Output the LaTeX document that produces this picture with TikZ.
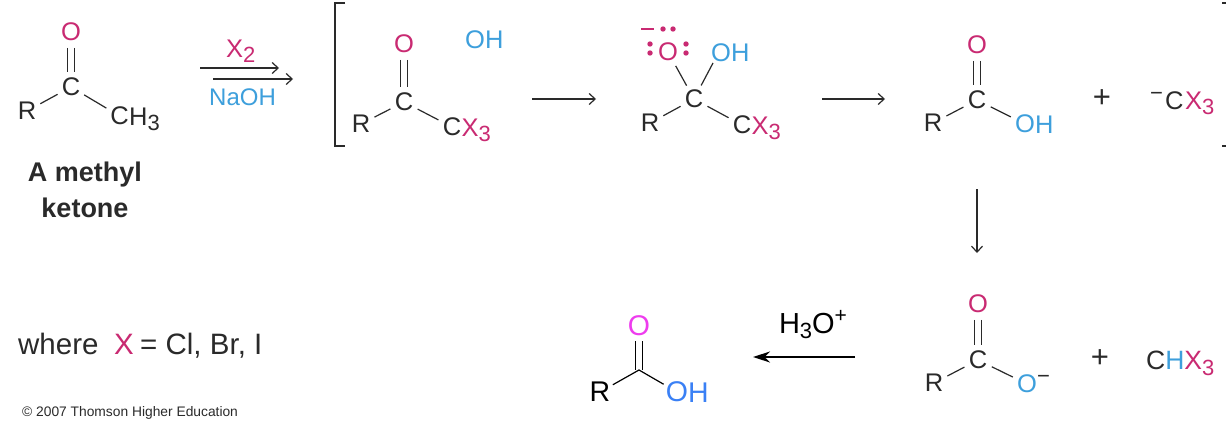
\documentclass[tikz,border=0pt]{standalone}
\usepackage{fontspec}
\setmainfont{Liberation Sans}
\usetikzlibrary{arrows.meta}
\definecolor{ink}{HTML}{2A2A2A}
\definecolor{pinkc}{HTML}{C92A72}
\definecolor{bluec}{HTML}{3D9FDC}
\definecolor{brightO}{HTML}{EE3CEE}
\definecolor{brightH}{HTML}{3A80F5}
\newcommand{\chemsize}{\fontsize{25.5}{28}\selectfont}
\newcommand{\subnum}[1]{\raisebox{-5.5pt}{\fontsize{22}{24}\selectfont #1}}
\newcommand{\supminus}{\raisebox{9pt}{\fontsize{22}{24}\selectfont −}}
\tikzset{
  atom/.style={circle,inner sep=1.6pt,font=\chemsize,text=ink},
  pinkatom/.style={atom,text=pinkc},
  plussign/.style={inner sep=0pt,font=\fontsize{31}{33}\selectfont,text=ink},
  chemtext/.style={inner sep=0pt,font=\chemsize,text=ink,anchor=base west},
  bigatom/.style={circle,inner sep=0.2pt,font=\fontsize{28.5}{30}\selectfont,text=black},
  bigtext/.style={inner sep=0pt,font=\fontsize{28.5}{30}\selectfont,anchor=base west},
  bond/.style={draw=ink,line width=1.2pt},
  rarrow/.style={draw=ink,line width=1.2pt,-{Straight Barb[length=6pt,width=11pt,line width=1.2pt]}},
  boldlabel/.style={inner sep=0pt,font=\fontsize{27}{30}\selectfont\bfseries,text=ink},
  lonepair/.style={fill=pinkc,radius=2.7pt}
}
\begin{document}
\begin{tikzpicture}[x=1pt,y=-1pt]
\path[use as bounding box,fill=white] (0,0) rectangle (1226,439);

% methyl ketone
\node[pinkatom] (aO) at (71,32) {O};
\node[atom] (aC) at (71,87) {C};
\node[atom] (aR) at (27,111) {R};
\node[atom] (aCm) at (119.5,116) {C};
\node[chemtext] (aH) at (129,125) {H\subnum{3}};
\draw[bond] ([xshift=-3.2pt]aO.south) -- ([xshift=-3.2pt]aC.north);
\draw[bond] ([xshift=3.2pt]aO.south) -- ([xshift=3.2pt]aC.north);
\draw[bond] (aR) -- (aC);
\draw[bond] (aC) -- (aCm);
\node[boldlabel] (aL1) at (85,175) {A methyl};
\node[boldlabel] (aL2) at (85,208) {ketone};

% reagents
\coordinate (r1a) at (200,68); \coordinate (r1b) at (279,68);
\coordinate (r2a) at (213,79); \coordinate (r2b) at (293,79);
\draw[rarrow] (r1a) -- (r1b);
\draw[rarrow] (r2a) -- (r2b);
\node[chemtext,text=pinkc] (rX) at (226,57) {X\subnum{2}};
\node[chemtext,text=bluec,font=\fontsize{24}{28}\selectfont] (rN) at (209,105.5) {NaOH};

% bracket
\coordinate (b1) at (345,3); \coordinate (b2) at (335,3);
\coordinate (b3) at (335,146); \coordinate (b4) at (345,146);
\draw[bond] (b1) -- (b2) -- (b3) -- (b4);
\coordinate (b5) at (1222,3); \coordinate (b6) at (1226,3);
\coordinate (b7) at (1222,146); \coordinate (b8) at (1226,146);
\draw[bond] (b5) -- (b6);
\draw[bond] (b7) -- (b8);

% trihalo ketone
\node[pinkatom] (bO) at (404,44) {O};
\node[chemtext,text=bluec] (bOH) at (465,48) {OH};
\node[atom] (bC) at (404,102) {C};
\node[atom] (bR) at (361,124) {R};
\node[atom] (bCx) at (452,127) {C};
\node[chemtext,text=pinkc] (bX) at (461.5,136) {X\subnum{3}};
\draw[bond] ([xshift=-3.2pt]bO.south) -- ([xshift=-3.2pt]bC.north);
\draw[bond] ([xshift=3.2pt]bO.south) -- ([xshift=3.2pt]bC.north);
\draw[bond] (bR) -- (bC);
\draw[bond] (bC) -- (bCx);

\coordinate (s1a) at (532,99); \coordinate (s1b) at (596,99);
\draw[rarrow] (s1a) -- (s1b);

% tetrahedral intermediate
\node[pinkatom] (cO) at (668,52) {O};
\node[chemtext,text=bluec] (cOH) at (711,61) {OH};
\node[atom] (cC) at (694,99) {C};
\node[atom] (cR) at (650,123) {R};
\node[atom] (cCx) at (742,125) {C};
\node[chemtext,text=pinkc] (cX) at (751.5,134) {X\subnum{3}};
\draw[bond] (cO) -- (cC);
\coordinate (cB) at (713,63);
\draw[bond] (cB) -- (cC);
\draw[bond] (cR) -- (cC);
\draw[bond] (cC) -- (cCx);
\fill[lonepair] (650,44) circle[];
\fill[lonepair] (650,53) circle[];
\fill[lonepair] (686,44) circle[];
\fill[lonepair] (686,53) circle[];
\fill[lonepair] (663,29) circle[];
\fill[lonepair] (673,29) circle[];
\draw[draw=pinkc,line width=1.5pt] (641,29) -- (654,29);

\coordinate (s2a) at (822,99); \coordinate (s2b) at (885,99);
\draw[rarrow] (s2a) -- (s2b);

% acid and haloform anion
\node[pinkatom] (dO) at (977,45) {O};
\node[atom] (dC) at (977,100) {C};
\node[atom] (dR) at (933,123) {R};
\node[atom,text=bluec] (dOx) at (1025,124) {O};
\node[chemtext,text=bluec] (dH) at (1035,133) {H};
\draw[bond] ([xshift=-3.2pt]dO.south) -- ([xshift=-3.2pt]dC.north);
\draw[bond] ([xshift=3.2pt]dO.south) -- ([xshift=3.2pt]dC.north);
\draw[bond] (dR) -- (dC);
\draw[bond] (dC) -- (dOx);
\node[plussign] (dPlus) at (1102,99) {+};
\node[chemtext] (dMinus) at (1150,109) {\supminus};
\node[chemtext] (dCm) at (1165,109) {C};
\node[chemtext,text=pinkc] (dX) at (1185,109) {X\subnum{3}};

\coordinate (s3a) at (977,189); \coordinate (s3b) at (977,253);
\draw[rarrow] (s3a) -- (s3b);

% carboxylate and haloform
\node[pinkatom] (eO) at (978,304) {O};
\node[atom] (eC) at (978,360) {C};
\node[atom] (eR) at (934,383) {R};
\node[atom,text=bluec] (eOm) at (1027,384) {O};
\node[chemtext] (eMinus) at (1037,392) {\supminus};
\draw[bond] ([xshift=-3.2pt]eO.south) -- ([xshift=-3.2pt]eC.north);
\draw[bond] ([xshift=3.2pt]eO.south) -- ([xshift=3.2pt]eC.north);
\draw[bond] (eR) -- (eC);
\draw[bond] (eC) -- (eOm);
\node[plussign] (ePlus) at (1100,359) {+};
\node[chemtext,font=\fontsize{26.5}{30}\selectfont] (eCh) at (1146,369.5) {C\textcolor{bluec}{H}\textcolor{pinkc}{X}\textcolor{pinkc}{\subnum{3}}};

% acidification
\coordinate (f1) at (855,357); \coordinate (f2) at (753,357);
\draw[draw=black,line width=1.5pt,-{Stealth[length=17pt,width=11pt]}] (f1) -- (f2);
\node[inner sep=0pt,font=\fontsize{29}{31}\selectfont,text=black] (fH) at (813,325) {H\raisebox{-5pt}{\fontsize{22}{24}\selectfont 3}O\raisebox{11pt}{\fontsize{21}{24}\selectfont +}};

% final acid
\node[bigatom,text=brightO] (gO) at (639,326) {O};
\coordinate (gV) at (639,370);
\node[bigatom] (gR) at (600,392) {R};
\node[bigatom,text=brightH] (gOx) at (677,392) {O};
\node[bigtext,text=brightH] (gH) at (688,402) {H};
\draw[draw=black,line width=1.2pt] ([xshift=-3.2pt]gO.south) -- ([xshift=-3.2pt]gV);
\draw[draw=black,line width=1.2pt] ([xshift=3.2pt]gO.south) -- ([xshift=3.2pt]gV);
\draw[draw=black,line width=1.2pt] (gR) -- (gV) -- (gOx);

% notes
\node[chemtext,font=\fontsize{29.5}{31}\selectfont] (nW) at (18,354) {where};
\node[chemtext,font=\fontsize{29.5}{31}\selectfont,text=pinkc] (nX) at (114,354) {X};
\node[chemtext,font=\fontsize{29.5}{31}\selectfont] (nE) at (140,354) {= Cl, Br, I};
\node[inner sep=0pt,anchor=base west,font=\fontsize{13.8}{15}\selectfont,text=ink] (nC) at (22,416) {© 2007 Thomson Higher Education};
\end{tikzpicture}
\end{document}
